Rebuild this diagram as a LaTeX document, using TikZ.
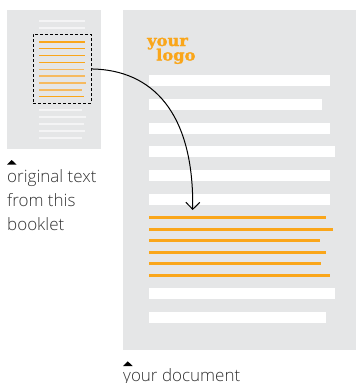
\documentclass[tikz,border=0pt]{standalone}
\usepackage{fontspec}
\setmainfont{Open Sans Light}[BoldFont={Open Sans}]
\newfontfamily\logofont{DejaVu Serif Bold}[FakeBold=1.6,FakeStretch=1.05]
\usetikzlibrary{arrows.meta}
\definecolor{pagegrey}{RGB}{229,230,231}
\definecolor{logoorange}{RGB}{250,166,26}
\definecolor{softorange}{RGB}{246,186,96}
\definecolor{softwhite}{RGB}{244,244,245}
\definecolor{labelgrey}{RGB}{50,50,50}
\tikzset{
  page/.style={fill=pagegrey,draw=none},
  bar/.style={fill=white,draw=none},
  obar/.style={fill=logoorange,draw=none},
  thinwhite/.style={draw=softwhite,line width=1.1pt},
  thinorange/.style={draw=logoorange,line width=1.1pt},
  thinsoft/.style={draw=softorange,line width=1.2pt},
  marker/.style={fill=black,draw=none},
  caption/.style={anchor=base west,inner sep=0pt,font=\fontsize{17}{17}\selectfont,text=labelgrey},
  logotext/.style={anchor=base west,inner sep=0pt,font=\logofont\fontsize{15.5}{15.5}\selectfont,text=logoorange},
}
\begin{document}
\begin{tikzpicture}[x=1pt,y=-1pt]
\useasboundingbox (0,0) rectangle (356,383);
\clip (0,0) rectangle (356,383);
% small page
\fill[page] (7,10) rectangle (101,149);
\foreach \y/\e in {21/85,28/85,110/82,117/86,124/83.5,131/85,138/82}
  \draw[thinwhite] (39,\y) -- (\e,\y);
\foreach \y/\e in {42/85,48.5/85,55.5/85,62.5/85,96.5/83.5}
  \draw[thinorange] (39,\y) -- (\e,\y);
\foreach \y/\e in {69.5/83.5,76/85,83/86,90/82}
  \draw[thinsoft] (39,\y) -- (\e,\y);
\node[draw=black,line width=0.9pt,dash pattern=on 3pt off 2pt,minimum width=58pt,minimum height=69pt,inner sep=0pt,anchor=north west] (sel) at (33,34) {};
% large page
\fill[page] (123,10) rectangle (356,350);
\foreach \y/\e in {75/330,99/322,123/330,146/335,170/330,194/330,288/335,312/326}
  \fill[bar] (149,\y) rectangle (\e,\y+11);
\foreach \y/\e in {217.3/326,229.3/333,240.3/320,252.3/326,263.3/321,275.3/330}
  \fill[obar] (149,\y-1.6) rectangle (\e,\y+1.6);
\node[logotext] (logoa) at (147,46) {your};
\node[logotext] (logob) at (156,60.5) {logo};
% connector
\coordinate (target) at (192.7,210);
\draw[black,line width=1pt,-{Straight Barb[length=7pt,width=14pt,line width=1pt]}] (sel.east) .. controls (152,70) and (194,112) .. (target);
% markers and captions
\fill[marker] (7,164.7) -- (11.7,160) -- (16.7,164.7) -- cycle;
\node[caption] (cap1) at (7,182.3) {original text};
\node[caption] (cap2) at (7,206) {from this};
\node[caption] (cap3) at (7,230) {booklet};
\fill[marker] (123,366) -- (127.7,361.3) -- (132.7,366) -- cycle;
\node[caption] (cap4) at (123,381.7) {your document};
\end{tikzpicture}
\end{document}
